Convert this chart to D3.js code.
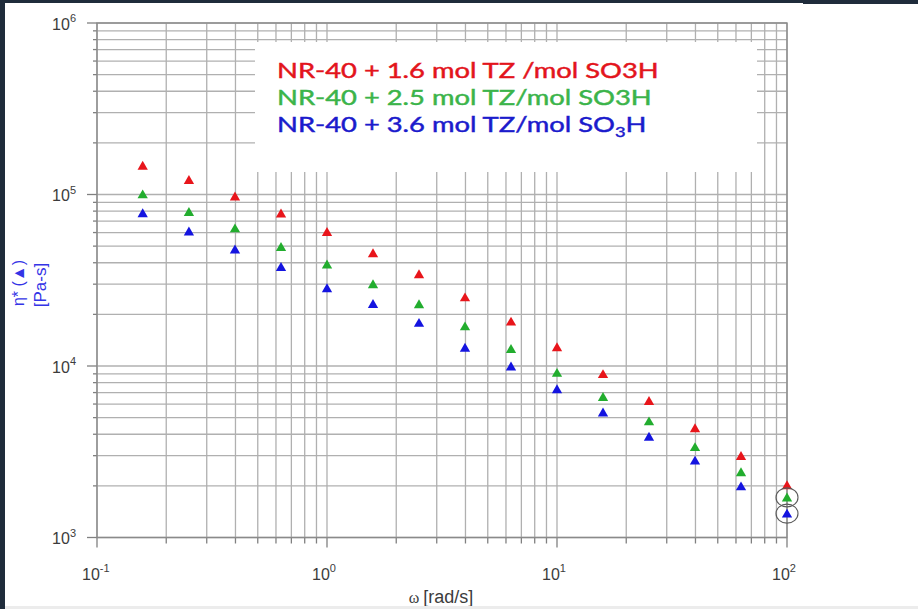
<!DOCTYPE html>
<html>
<head>
<meta charset="utf-8">
<script src="https://cdn.jsdelivr.net/npm/d3@7"></script>
<style>
  html, body { margin: 0; padding: 0; background: #ffffff; }
  svg { display: block; }
</style>
</head>
<body>
<svg id="chart" width="918" height="609"></svg>
<script>
// Angular frequency (rad/s) at which each complex viscosity was measured
const omega = [0.158, 0.251, 0.398, 0.631, 1, 1.585, 2.512, 3.981, 6.31, 10, 15.85, 25.12, 39.81, 63.1, 100];

// Complex viscosity eta* (Pa-s) for each formulation
const etaTZ16 = [145000, 120000, 96000, 76500, 59600, 44800, 33800, 24800, 17900, 12700, 8850, 6170, 4280, 2950, 1990];
const etaTZ25 = [98800, 78100, 62600, 48800, 38600, 29600, 22600, 16800, 12400, 9000, 6510, 4690, 3320, 2370, 1690];
const etaTZ36 = [76700, 60100, 47200, 37300, 28000, 22700, 17600, 12600, 9810, 7230, 5290, 3820, 2770, 1960, 1360];

// Legend lines; odd-indexed parts are drawn as subscripts
const legendParts = [
  ["NR-40 + 1.6 mol TZ /mol SO3H"],
  ["NR-40 + 2.5 mol TZ/mol SO3H"],
  ["NR-40 + 3.6 mol TZ/mol SO", "3", "H"]
];
const markerColors = ["#e8151b", "#22ad2e", "#1414e0"];
const legendColors = ["#e3141c", "#3bb44a", "#1b1bcc"];

// Decade tick values and their exponents
const xTickValues = [0.1, 1, 10, 100];
const xTickExps = ["-1", "0", "1", "2"];
const yTickValues = [1e3, 1e4, 1e5, 1e6];
const yTickExps = ["3", "4", "5", "6"];

// Highlighted last points (formulation index)
const circled = [1, 2];

const svg = d3.select("#chart");
const W = 918, H = 609;

const pLeft = 97, pRight = 787, pTop = 23, pBottom = 537.5;
const x = d3.scaleLog().domain([0.1, 100]).range([pLeft, pRight]);
const y = d3.scaleLog().domain([1e3, 1e6]).range([pBottom, pTop]);

svg.append("rect").attr("width", W).attr("height", H).attr("fill", "#ffffff");

// Grid lines at every 1..9 multiple of each decade
const gridColor = "#b0b0b0";
const g = svg.append("g");
g.selectAll("line.h").data(y.ticks()).join("line")
  .attr("x1", pLeft).attr("x2", pRight)
  .attr("y1", d => y(d)).attr("y2", d => y(d))
  .attr("stroke", gridColor).attr("stroke-width", 1.3);
g.selectAll("line.v").data(x.ticks()).join("line")
  .attr("y1", pTop).attr("y2", pBottom)
  .attr("x1", d => x(d)).attr("x2", d => x(d))
  .attr("stroke", gridColor).attr("stroke-width", 1.3);

// Outward ticks on the left and bottom edges
const isMajor = v => Math.abs(Math.log10(v) - Math.round(Math.log10(v))) < 1e-6;
svg.append("g").selectAll("line").data(y.ticks()).join("line")
  .attr("x1", d => isMajor(d) ? pLeft - 10 : pLeft - 4).attr("x2", pLeft)
  .attr("y1", d => y(d)).attr("y2", d => y(d))
  .attr("stroke", "#808080").attr("stroke-width", 1.3);
svg.append("g").selectAll("line").data(x.ticks()).join("line")
  .attr("y1", pBottom).attr("y2", d => isMajor(d) ? pBottom + 10 : pBottom + 6)
  .attr("x1", d => x(d)).attr("x2", d => x(d))
  .attr("stroke", "#808080").attr("stroke-width", 1.3);

// Legend panel masks the grid behind it
svg.append("rect").attr("x", 255).attr("y", 42).attr("width", 502).attr("height", 130)
  .attr("fill", "#ffffff");

// Plot frame
svg.append("rect").attr("x", pLeft).attr("y", pTop)
  .attr("width", pRight - pLeft).attr("height", pBottom - pTop)
  .attr("fill", "none").attr("stroke", "#8a8a8a").attr("stroke-width", 1.4);

// Axis tick labels (10 with exponent)
const tickFont = "'Liberation Sans', Arial, sans-serif";
yTickValues.forEach((v, i) => {
  const t = svg.append("text")
    .attr("x", 76).attr("y", y(v) + 6.5)
    .attr("text-anchor", "end")
    .attr("font-family", tickFont).attr("font-size", 16).attr("fill", "#3c3c3c");
  t.append("tspan").text("10");
  t.append("tspan").attr("dy", -7.5).attr("font-size", 11).text(yTickExps[i]);
});
xTickValues.forEach((v, i) => {
  const t = svg.append("text")
    .attr("x", x(v) - 15).attr("y", 580)
    .attr("font-family", tickFont).attr("font-size", 16).attr("fill", "#3c3c3c");
  t.append("tspan").text("10");
  t.append("tspan").attr("dy", -8).attr("font-size", 11).text(xTickExps[i]);
});

// Axis titles
const xt = svg.append("text").attr("x", 441).attr("y", 603).attr("text-anchor", "middle")
  .attr("fill", "#3c3c3c").attr("font-family", tickFont).attr("font-size", 18);
xt.append("tspan").attr("font-family", "'Liberation Serif', serif").attr("font-size", 16).text("\u03c9 ");
xt.append("tspan").text("[rad/s]");

svg.append("text").attr("transform", "translate(24,283) rotate(-90)")
  .attr("text-anchor", "middle").attr("fill", "#3434e6")
  .attr("font-family", tickFont).attr("font-size", 16).text("\u03b7* (\u25b2)");
svg.append("text").attr("transform", "translate(46,285) rotate(-90)")
  .attr("text-anchor", "middle").attr("fill", "#3434e6")
  .attr("font-family", tickFont).attr("font-size", 17).text("[Pa-s]");

// Data markers
const series = [etaTZ16, etaTZ25, etaTZ36];
const tri = d3.symbol().type(d3.symbolTriangle).size(46);
series.forEach((vals, si) => {
  svg.append("g").selectAll("path").data(vals).join("path")
    .attr("d", tri)
    .attr("transform", (d, i) => `translate(${x(omega[i])},${y(d)})`)
    .attr("fill", markerColors[si]);
});

// Circles around the highlighted final points
circled.forEach(si => {
  const vals = series[si];
  const last = vals.length - 1;
  svg.append("ellipse")
    .attr("cx", x(omega[last])).attr("cy", y(vals[last]) - 1)
    .attr("rx", 11).attr("ry", 9.5)
    .attr("fill", "none").attr("stroke", "#5a5a5a").attr("stroke-width", 1.1);
});

// Legend text: wide-set type, stretched horizontally so the first line spans 382px
const legendFont = "Lato, 'Open Sans', sans-serif";
const legendSize = 21;
const legendTexts = legendParts.map((parts, li) => {
  const t = svg.append("text")
    .attr("font-family", legendFont).attr("font-size", legendSize)
    .attr("fill", legendColors[li])
    .attr("stroke", legendColors[li]).attr("stroke-width", 0.45);
  parts.forEach((p, pi) => {
    const sp = t.append("tspan").text(p);
    if (pi % 2 === 1) sp.attr("font-size", 14).attr("dy", 5);
    else if (pi > 0) sp.attr("dy", -5);
  });
  return t;
});
const sx = 382 / legendTexts[0].node().getComputedTextLength();
legendTexts.forEach((t, li) =>
  t.attr("transform", `translate(277,${78 + li * 27}) scale(${sx},1)`));

// Dark frame along the top and left edges
svg.append("rect").attr("x", 0).attr("y", 0).attr("width", W).attr("height", 3).attr("fill", "#1f2c3b");
svg.append("rect").attr("x", 803).attr("y", 0).attr("width", W - 803).attr("height", 4).attr("fill", "#1f2c3b");
svg.append("rect").attr("x", 0).attr("y", 0).attr("width", 5).attr("height", H).attr("fill", "#1f2c3b");
svg.append("rect").attr("x", 5).attr("y", 606).attr("width", W - 5).attr("height", 3).attr("fill", "#ececec");
</script>
</body>
</html>
